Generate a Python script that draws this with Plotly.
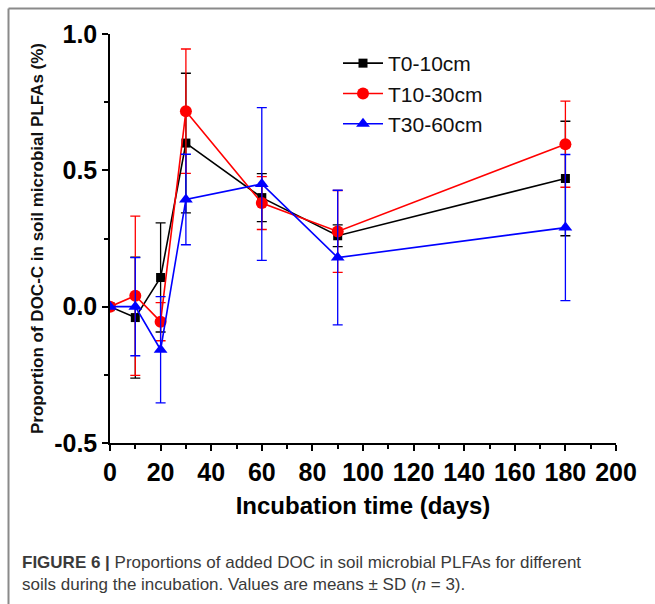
import plotly.graph_objects as go

days = [0, 10, 20, 30, 60, 90, 180]
series_names = ["T0-10cm", "T10-30cm", "T30-60cm"]
t0_10 = [0.0, -0.04, 0.107, 0.60, 0.40, 0.26, 0.47]
t0_10_sd = [0.0, 0.222, 0.20, 0.256, 0.088, 0.04, 0.21]
t10_30 = [0.0, 0.04, -0.055, 0.717, 0.38, 0.276, 0.596]
t10_30_sd = [0.0, 0.292, 0.07, 0.228, 0.097, 0.15, 0.158]
t30_60 = [0.0, 0.0, -0.158, 0.393, 0.45, 0.18, 0.29]
t30_60_sd = [0.0, 0.18, 0.195, 0.166, 0.28, 0.247, 0.268]
colors = ["#000000", "#ff0000", "#0000ff"]
symbols = ["square", "circle", "triangle-up"]
sizes = [9, 12, 12]

x_ticks = list(range(0, 201, 20))
y_ticks = [-0.5, 0.0, 0.5, 1.0]
y_ticklabels = ["-0.5", "0.0", "0.5", "1.0"]

fig = go.Figure()
for name, ys, sd, c, s, sz in zip(series_names, [t0_10, t10_30, t30_60],
                                  [t0_10_sd, t10_30_sd, t30_60_sd], colors, symbols, sizes):
    fig.add_trace(go.Scatter(
        x=days, y=ys, name=name, mode="lines+markers",
        line=dict(color=c, width=1.6),
        marker=dict(symbol=s, size=sz, color=c),
        error_y=dict(type="data", array=sd, visible=True, color=c, thickness=1.3, width=5),
    ))

W0, W1 = 110, 616
H0, H1 = 34, 443
def px(x):
    return (x - W0) / (W1 - W0)
def py(y):
    return (H1 - y) / (H1 - H0)

tick_font = dict(size=25, family="Liberation Sans Narrow, Arial Narrow, sans-serif", color="black")

fig.update_layout(
    width=655, height=604,
    margin=dict(l=W0, r=655 - W1, t=H0, b=604 - H1),
    paper_bgcolor="white", plot_bgcolor="white",
    font=dict(family="Arial, Liberation Sans, sans-serif", color="black"),
    showlegend=True,
    legend=dict(x=px(338), y=py(43), xanchor="left", yanchor="top",
                font=dict(size=21, color="#111"), bgcolor="rgba(0,0,0,0)",
                tracegroupgap=0, itemwidth=40),
    xaxis=dict(range=[0, 200], tickvals=x_ticks, ticktext=["<b>%d</b>" % t for t in x_ticks],
               showline=True, linecolor="black", linewidth=1.5,
               ticks="outside", ticklen=6, tickwidth=1.5, tickcolor="black",
               minor=dict(dtick=10, ticks="outside", ticklen=4, tickwidth=1.5, tickcolor="black"),
               showgrid=False, zeroline=False,
               tickfont=tick_font,
               title=dict(text="<b>Incubation time (days)</b>", font=dict(size=24, color="black"), standoff=12)),
    yaxis=dict(range=[-0.5, 1.0], tickvals=y_ticks, ticktext=["<b>%s</b>" % t for t in y_ticklabels],
               showline=True, linecolor="black", linewidth=1.5,
               ticks="outside", ticklen=6, tickwidth=1.5, tickcolor="black",
               minor=dict(dtick=0.25, ticks="outside", ticklen=4, tickwidth=1.5, tickcolor="black"),
               showgrid=False, zeroline=False,
               tickfont=tick_font,
               title=dict(text="<b>Proportion of DOC-C in soil microbial PLFAs (%)</b>",
                          font=dict(size=17, color="#111"), standoff=6)),
)

fig.add_shape(type="line", xref="paper", yref="paper", x0=px(8.5), x1=px(655), y0=py(8.5), y1=py(8.5),
              line=dict(color="#8a8a8a", width=2))
fig.add_shape(type="line", xref="paper", yref="paper", x0=px(8.5), x1=px(8.5), y0=py(8.5), y1=py(604),
              line=dict(color="#8a8a8a", width=2))

cap_font = dict(size=17, color="#3a3a3a", family="Arial, Liberation Sans, sans-serif")
fig.add_annotation(xref="paper", yref="paper", x=px(20), y=py(562), xanchor="left", yanchor="middle",
                   showarrow=False, align="left",
                   text="<b>FIGURE 6 |</b> Proportions of added DOC in soil microbial PLFAs for different",
                   font=cap_font)
fig.add_annotation(xref="paper", yref="paper", x=px(20), y=py(584), xanchor="left", yanchor="middle",
                   showarrow=False, align="left",
                   text="soils during the incubation. Values are means ± SD (<i>n</i> = 3).",
                   font=cap_font)

fig.write_html("out.html")
